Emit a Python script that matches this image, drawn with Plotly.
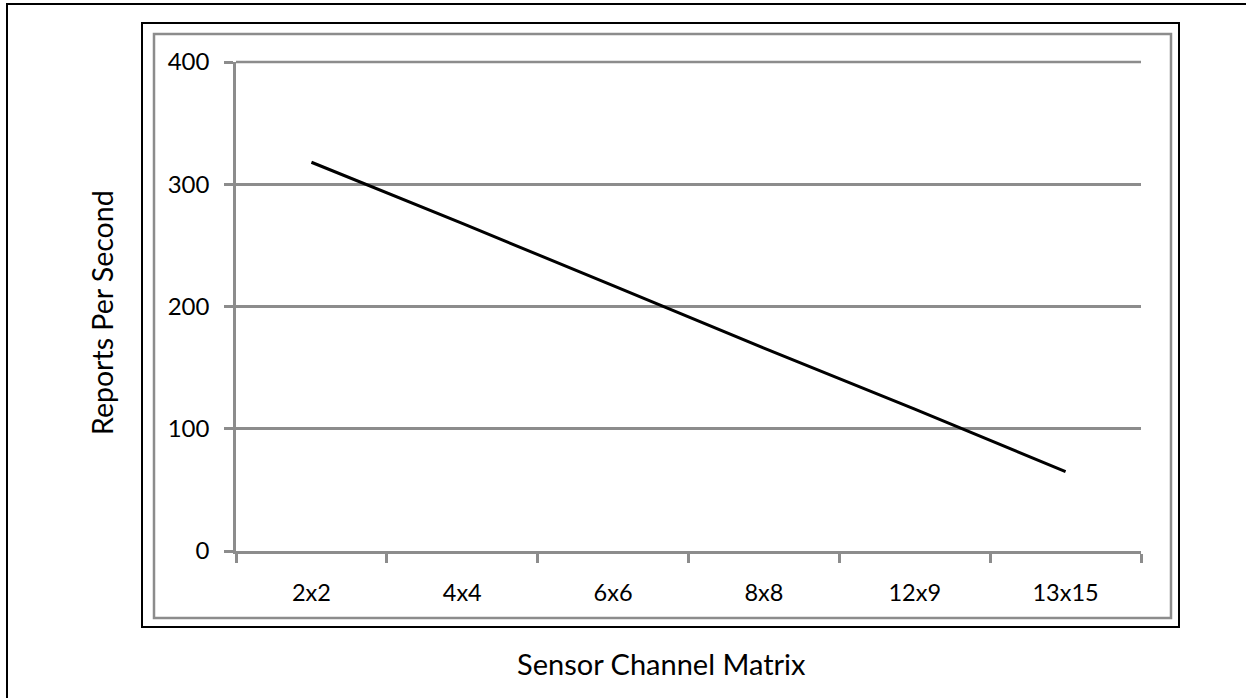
import plotly.graph_objects as go

categories = ["2x2", "4x4", "6x6", "8x8", "12x9", "13x15"]
reports_per_second = [318, 268, 217, 166, 116, 65]
y_ticks = [0, 100, 200, 300, 400]

W, H = 1246, 698
L, R, T, B = 236, 1141, 62, 551
FONT = "Lato"
GRAY = "#8c8c8c"


def px(x):
    return (x - L) / (R - L)


def py(y):
    return (B - y) / (B - T)


fig = go.Figure()
fig.add_trace(go.Scatter(
    x=categories, y=reports_per_second, mode="lines",
    line=dict(color="black", width=3), showlegend=False, hoverinfo="skip"))

fig.update_layout(
    width=W, height=H,
    margin=dict(l=L, r=W - R, t=T, b=H - B, pad=0),
    paper_bgcolor="white", plot_bgcolor="white",
    font=dict(family=FONT, size=16, color="black"),
    xaxis=dict(
        type="category", range=[-0.5, 5.5], tickson="boundaries",
        showgrid=False, showline=True, linecolor=GRAY, linewidth=2.5,
        ticks="outside", ticklen=9, tickwidth=2.5, tickcolor=GRAY,
        ticklabelstandoff=19, tickfont=dict(family=FONT, size=23.5),
        zeroline=False, fixedrange=True),
    yaxis=dict(
        range=[y_ticks[0], y_ticks[-1]], tickvals=y_ticks, showgrid=True,
        gridcolor=GRAY, gridwidth=2.5, showline=True, linecolor=GRAY,
        linewidth=2.5, ticks="outside", ticklen=9, tickwidth=2.5,
        tickcolor=GRAY, ticklabelstandoff=10,
        tickfont=dict(family=FONT, size=24),
        zeroline=False, fixedrange=True),
    shapes=[
        dict(type="rect", xref="paper", yref="paper",
             x0=px(7), x1=px(1300), y0=py(4), y1=py(760),
             line=dict(color="black", width=2), layer="below"),
        dict(type="rect", xref="paper", yref="paper",
             x0=px(142), x1=px(1179), y0=py(23), y1=py(627),
             line=dict(color="black", width=2), layer="below"),
        dict(type="rect", xref="paper", yref="paper",
             x0=px(154), x1=px(1171), y0=py(34), y1=py(618),
             line=dict(color=GRAY, width=2.5), layer="below"),
        # gridline at the top of the range (plotly drops it at the edge)
        dict(type="line", xref="paper", yref="paper",
             x0=0, x1=1, y0=1, y1=1,
             line=dict(color=GRAY, width=2.5), layer="below"),
    ],
    annotations=[
        dict(text="Sensor Channel Matrix", xref="paper", yref="paper",
             x=px(661), y=py(663), showarrow=False,
             font=dict(family=FONT, size=29), xanchor="center", yanchor="middle"),
        dict(text="Reports Per Second", xref="paper", yref="paper",
             x=px(102), y=py(313), showarrow=False, textangle=-90,
             font=dict(family=FONT, size=28.5), xanchor="center", yanchor="middle"),
    ],
)

fig.write_html("out.html", config={"displayModeBar": False},
               post_script="document.body.style.margin='0';")
